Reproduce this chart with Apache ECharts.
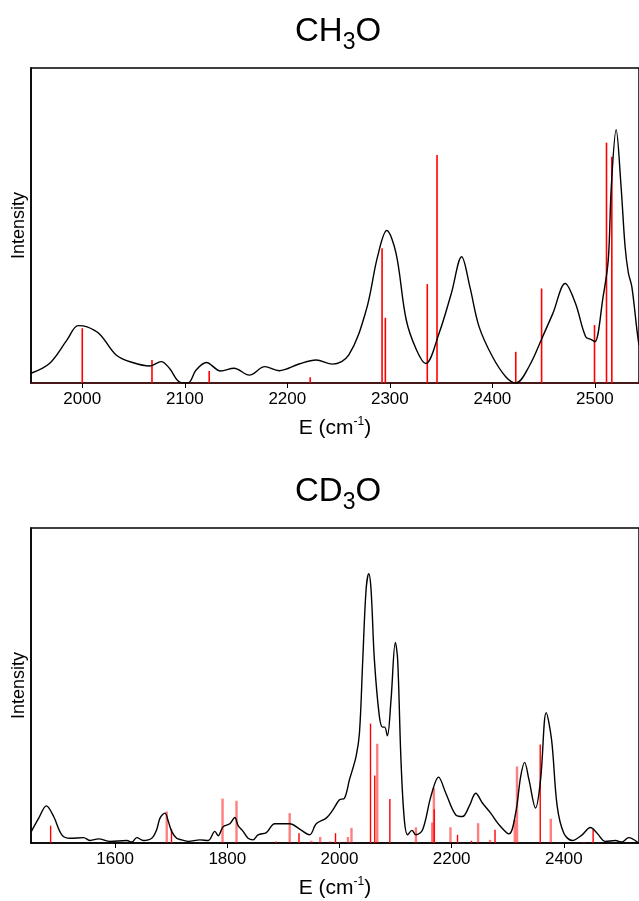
<!DOCTYPE html>
<html>
<head>
<meta charset="utf-8">
<script src="https://cdn.jsdelivr.net/npm/echarts@6/dist/echarts.min.js"></script>
<style>
  html, body { margin: 0; padding: 0; background: #fff; }
  #chart { width: 639px; height: 901px; }
</style>
</head>
<body>
<div id="chart"></div>
<script>
// CH3O panel: simulated spectrum (black) and stick intensities (red)
const ch3oCurve = [
  [1950, 3.1], [1968, 6.2], [1985, 13.6], [1996, 18.2], [2004, 17.9], [2017, 15.5],
  [2033, 8.9], [2049, 6.5], [2066, 5.4], [2077, 6.8], [2085, 4.7], [2095, 0.3],
  [2103, 0], [2111, 4.1], [2121, 6.5], [2135, 3.8], [2148, 4.7], [2163, 2.5],
  [2178, 5.2], [2192, 3.9], [2212, 6.1], [2228, 7.3], [2244, 6.0], [2260, 8.9],
  [2277, 23.2], [2288, 40.1], [2297, 48.4], [2306, 41.2], [2316, 20], [2326, 10.5],
  [2335, 6.2], [2348, 15.8], [2360, 28.5], [2370, 40.1], [2378, 30.6], [2387, 17.9],
  [2400, 8.4], [2413, 2], [2423, 0], [2436, 5.4], [2449, 14.7], [2459, 22.1],
  [2471, 31.6], [2481, 25.3], [2491, 14.7], [2497, 13.7], [2500, 13.1], [2508, 27.4],
  [2513, 39], [2516, 62.4], [2520.7, 80.4], [2525.5, 62.4], [2529.4, 43.4],
  [2532.6, 35], [2536, 30.6], [2541, 16.8], [2543, 12]
];
const ch3oSticks = [
  [2000, 17.4], [2068, 7.3], [2123.8, 3.8], [2222.3, 1.8], [2292.4, 42.8],
  [2295.6, 20.7], [2336.5, 31.4], [2346, 72.4], [2422.8, 9.9], [2448, 30],
  [2499.6, 18.4], [2511.3, 76.3], [2516.5, 71.8]
];

// CD3O panel
const cd3oCurve = [
  [1450.7, 3.7], [1463.8, 7.9], [1477.4, 11.8], [1490.4, 8.4], [1505, 2.6], [1520, 1.5],
  [1543.8, 1.7], [1555.6, 0.8], [1570.4, 1.3], [1591, 0.5], [1620.8, 0.8], [1629.7, 0.3],
  [1638.6, 1.7], [1650.4, 0.8], [1665.2, 1.5], [1674, 4.2], [1680, 7.9], [1688.9, 9.5],
  [1694.9, 6.8], [1700.8, 3.7], [1709.7, 1.5], [1718.6, 1.0], [1730.4, 0.5], [1751.2, 1.0],
  [1766, 0.8], [1777.8, 3.7], [1783.7, 2.3], [1792.6, 5.2], [1804.5, 6.1], [1813.4, 8.1],
  [1819.3, 5.5], [1828.2, 3.7], [1837, 1.5], [1846, 1.0], [1854.9, 2.6], [1869.7, 3.3],
  [1884.5, 6.1], [1911.2, 6.1], [1929, 4.4], [1946.7, 2.6], [1958.5, 6.1], [1976.3, 7.9],
  [1988.2, 10.5], [2000, 13.7], [2008.9, 14.2], [2017.8, 20.1], [2029.6, 27.5],
  [2035.6, 34.9], [2041.5, 58.2], [2047.4, 80.4], [2052.2, 85.5], [2056.3, 80.4],
  [2062.2, 58.2], [2071.1, 40.2], [2077, 36.8], [2080.6, 36.8], [2085.3, 34.0],
  [2091.9, 45.5], [2099.6, 63.7], [2103.7, 58.2], [2109.6, 26.4], [2115.6, 7.4],
  [2121.5, 2.6], [2129.2, 4.0], [2136.3, 2.6], [2148.2, 4.2], [2163, 14.8], [2176.6, 20.9],
  [2189.6, 15.8], [2207.4, 8.9], [2219.3, 8.4], [2231.1, 11.6], [2243, 15.8], [2254.8, 12.7],
  [2269.6, 9.5], [2284.5, 5.8], [2302.2, 2.9], [2314.1, 9.5], [2323, 21.1], [2330.1, 25.6],
  [2337.8, 20.1], [2349.6, 11.1], [2358.5, 20.1], [2368.6, 41.4], [2378.1, 32.8],
  [2388.2, 11.6], [2400, 3.1], [2414.8, 0.8], [2432.6, 2.6], [2447.4, 4.9], [2459.3, 3.1],
  [2474.1, 0.5], [2491.9, 0.8], [2503.7, 0.3], [2515.6, 1.7], [2531.6, 0.2]
];
const cd3oSticksDark = [
  [1485, 5.5], [1700.5, 4.5], [1886.9, 0.5], [1927.8, 3.1], [1992.9, 3.1], [2000, 0.3],
  [2055.3, 37.9], [2062.9, 21.4], [2089.8, 14.0], [2168.9, 10.7], [2210.4, 2.6],
  [2235.3, 0.7], [2277.3, 4.2], [2357.9, 31.3], [2452.2, 4.4]
];
const cd3oSticksLight = [
  [1692, 10.0], [1791.5, 14.1], [1816.4, 13.4], [1911.2, 9.5], [1949.7, 0.7], [1965.6, 1.9],
  [1983.4, 0.5], [2015, 1.9], [2021.4, 4.8], [2067.3, 31.5], [2136.3, 5.0], [2165.3, 6.5],
  [2168.3, 17.4], [2197.9, 5.0], [2247.1, 6.3], [2268.5, 1.0], [2312.5, 7.4],
  [2316.5, 24.3], [2376.7, 7.7], [2435.6, 0.3]
];

const ch3oTicks = [2000, 2100, 2200, 2300, 2400, 2500];
const cd3oTicks = [1600, 1800, 2000, 2200, 2400];

const FONT = '"Liberation Sans", Arial, Helvetica, sans-serif';

const chart = echarts.init(document.getElementById('chart'));

function stickSeries(data, xi, color, width) {
  return {
    type: 'custom',
    xAxisIndex: xi,
    yAxisIndex: xi,
    data: data,
    silent: true,
    renderItem: function (params, api) {
      const base = api.coord([api.value(0), 0]);
      const tip = api.coord([api.value(0), api.value(1)]);
      return {
        type: 'line',
        shape: { x1: base[0], y1: base[1], x2: tip[0], y2: tip[1] },
        style: { stroke: color, lineWidth: width }
      };
    }
  };
}

function xAxis(gi, min, max, ticks, lineColor) {
  return {
    type: 'value',
    gridIndex: gi,
    min: min,
    max: max,
    name: 'E (cm{sup|-1})',
    nameLocation: 'middle',
    nameGap: 33,
    nameTextStyle: {
      fontFamily: FONT,
      fontSize: 21,
      color: '#000',
      rich: {
        sup: { fontFamily: FONT, fontSize: 12, color: '#000', padding: [0, 0, 13, 0] }
      }
    },
    axisLine: { onZero: false, lineStyle: { color: lineColor, width: 1.5 } },
    axisTick: { show: true, length: 5, customValues: ticks, lineStyle: { color: '#000', width: 1 } },
    axisLabel: {
      margin: 8,
      customValues: ticks,
      fontFamily: FONT,
      fontSize: 17,
      color: '#000',
      formatter: function (v) { return String(v); }
    },
    splitLine: { show: false }
  };
}

function yAxis(gi) {
  return {
    type: 'value',
    gridIndex: gi,
    min: 0,
    max: 100,
    name: 'Intensity',
    nameLocation: 'middle',
    nameGap: 3,
    nameTextStyle: { fontFamily: FONT, fontSize: 18, color: '#000' },
    axisLine: { show: true, lineStyle: { color: '#000', width: 1.5 } },
    axisTick: { show: false },
    axisLabel: { show: false },
    splitLine: { show: false }
  };
}

function titleText(text, top) {
  return {
    text: text,
    left: 290,
    top: top,
    textStyle: {
      fontWeight: 'normal',
      rich: {
        a: { fontFamily: FONT, fontSize: 33, fontWeight: 'normal', color: '#000' },
        s: { fontFamily: FONT, fontSize: 23, fontWeight: 'normal', color: '#000', padding: [22, 0, 0, 0] }
      }
    }
  };
}

const option = {
  backgroundColor: '#fff',
  animation: false,
  title: [
    titleText('{a|CH}{s|3}{a|O}', 4),
    titleText('{a|CD}{s|3}{a|O}', 464)
  ],
  grid: [
    { left: 31, right: -2, top: 68, height: 315, show: true, borderColor: '#000', borderWidth: 1.5, backgroundColor: 'transparent' },
    { left: 31, right: -2, top: 528, height: 315, show: true, borderColor: '#000', borderWidth: 1.5, backgroundColor: 'transparent' }
  ],
  xAxis: [
    xAxis(0, 1950, 2543, ch3oTicks, '#4a0c0c'),
    xAxis(1, 1450, 2534, cd3oTicks, '#000')
  ],
  yAxis: [yAxis(0), yAxis(1)],
  series: [
    stickSeries(ch3oSticks, 0, '#ff0000', 1.6),
    {
      type: 'line',
      xAxisIndex: 0,
      yAxisIndex: 0,
      data: ch3oCurve,
      smooth: 0.35,
      symbol: 'none',
      clip: true,
      lineStyle: { color: '#000', width: 1.4 }
    },
    stickSeries(cd3oSticksLight, 1, 'rgba(255,0,0,0.5)', 2.4),
    stickSeries(cd3oSticksDark, 1, '#ff0000', 1.4),
    {
      type: 'line',
      xAxisIndex: 1,
      yAxisIndex: 1,
      data: cd3oCurve,
      smooth: 0.35,
      symbol: 'none',
      clip: true,
      lineStyle: { color: '#000', width: 1.4 }
    }
  ]
};

chart.setOption(option);
</script>
</body>
</html>
